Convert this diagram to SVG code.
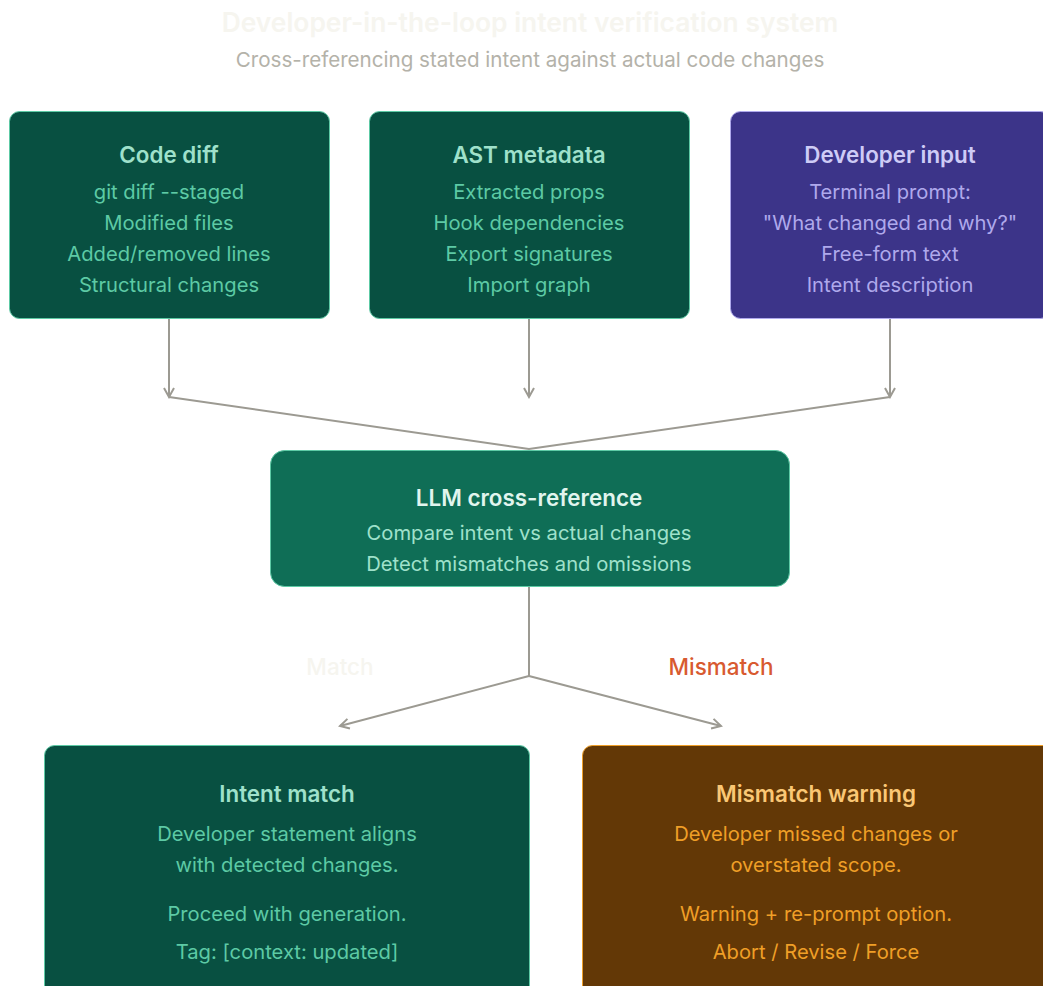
<svg xmlns="http://www.w3.org/2000/svg" width="1043" height="986" viewBox="0 0 1043 986">
<style>
text{font-family:Inter,"Noto Sans","Liberation Sans",sans-serif;text-anchor:middle}
.ttl{font-size:26.4px;font-weight:600;fill:#f6f5ef}
.sub{font-size:20.6px;fill:#b4b2a9}
.h{font-size:22.4px;font-weight:600}
.b{font-size:20.2px}
.g rect{fill:#085041;stroke:#5dcaa5;stroke-width:1}
.g .h{fill:#9fe1cb}.g .b{fill:#5dcaa5}
.p rect{fill:#3c3489;stroke:#afa9ec;stroke-width:1}
.p .h{fill:#cecbf6}.p .b{fill:#afa9ec}
.t rect{fill:#0f6e56;stroke:#5dcaa5;stroke-width:1}
.t .h{fill:#e1f5ee}.t .b{fill:#9fe1cb}
.a rect{fill:#633806;stroke:#ef9f27;stroke-width:1}
.a .h{fill:#fac775}.a .b{fill:#ef9f27}
.ln{fill:none;stroke:#9c9a92;stroke-width:2}
.lbl{font-size:22.5px;font-weight:500}
</style>
<defs>
<marker id="arr" viewBox="0 0 12 12" refX="10" refY="6" markerWidth="12" markerHeight="12" orient="auto-start-reverse" markerUnits="userSpaceOnUse">
<path d="M1 1L10 6L1 11" fill="none" stroke="#9c9a92" stroke-width="2"/>
</marker>
</defs>
<text class="ttl" x="530" y="32">Developer-in-the-loop intent verification system</text>
<text class="sub" x="530" y="67">Cross-referencing stated intent against actual code changes</text>
<g id="connectors">
<line class="ln" x1="169" y1="319" x2="169" y2="397" marker-end="url(#arr)"/>
<line class="ln" x1="529" y1="319" x2="529" y2="397" marker-end="url(#arr)"/>
<line class="ln" x1="890" y1="319" x2="890" y2="397" marker-end="url(#arr)"/>
<polyline class="ln" points="169,397 529,449 890,397"/>
<polyline class="ln" points="529,587 529,676"/>
<line class="ln" x1="529" y1="676" x2="340" y2="726" marker-end="url(#arr)"/>
<line class="ln" x1="529" y1="676" x2="721" y2="726" marker-end="url(#arr)"/>
<text class="lbl" x="340" y="675" fill="#f6f5ef">Match</text>
<text class="lbl" x="721" y="675" fill="#d85a30">Mismatch</text>
</g>
<g id="code-diff" class="g">
<rect x="9.5" y="111.5" width="320" height="207" rx="10"/>
<text class="h" x="169" y="163">Code diff</text>
<text class="b" x="169" y="199">git diff --staged</text>
<text class="b" x="169" y="230">Modified files</text>
<text class="b" x="169" y="261">Added/removed lines</text>
<text class="b" x="169" y="292">Structural changes</text>
</g>
<g id="ast-metadata" class="g">
<rect x="369.5" y="111.5" width="320" height="207" rx="10"/>
<text class="h" x="529" y="163">AST metadata</text>
<text class="b" x="529" y="199">Extracted props</text>
<text class="b" x="529" y="230">Hook dependencies</text>
<text class="b" x="529" y="261">Export signatures</text>
<text class="b" x="529" y="292">Import graph</text>
</g>
<g id="developer-input" class="p">
<rect x="730.5" y="111.5" width="320" height="207" rx="10"/>
<text class="h" x="890" y="163">Developer input</text>
<text class="b" x="890" y="199">Terminal prompt:</text>
<text class="b" x="890" y="230">"What changed and why?"</text>
<text class="b" x="890" y="261">Free-form text</text>
<text class="b" x="890" y="292">Intent description</text>
</g>
<g id="llm-cross-reference" class="t">
<rect x="270.5" y="450.5" width="519" height="136" rx="14"/>
<text class="h" x="529" y="506">LLM cross-reference</text>
<text class="b" x="529" y="540">Compare intent vs actual changes</text>
<text class="b" x="529" y="571">Detect mismatches and omissions</text>
</g>
<g id="intent-match" class="g">
<rect x="44.5" y="745.5" width="485" height="260" rx="10"/>
<text class="h" x="287" y="802">Intent match</text>
<text class="b" x="287" y="841">Developer statement aligns</text>
<text class="b" x="287" y="872">with detected changes.</text>
<text class="b" x="287" y="921">Proceed with generation.</text>
<text class="b" x="287" y="959">Tag: [context: updated]</text>
</g>
<g id="mismatch-warning" class="a">
<rect x="582.5" y="745.5" width="485" height="260" rx="10"/>
<text class="h" x="816" y="802">Mismatch warning</text>
<text class="b" x="816" y="841">Developer missed changes or</text>
<text class="b" x="816" y="872">overstated scope.</text>
<text class="b" x="816" y="921">Warning + re-prompt option.</text>
<text class="b" x="816" y="959">Abort / Revise / Force</text>
</g>
</svg>
